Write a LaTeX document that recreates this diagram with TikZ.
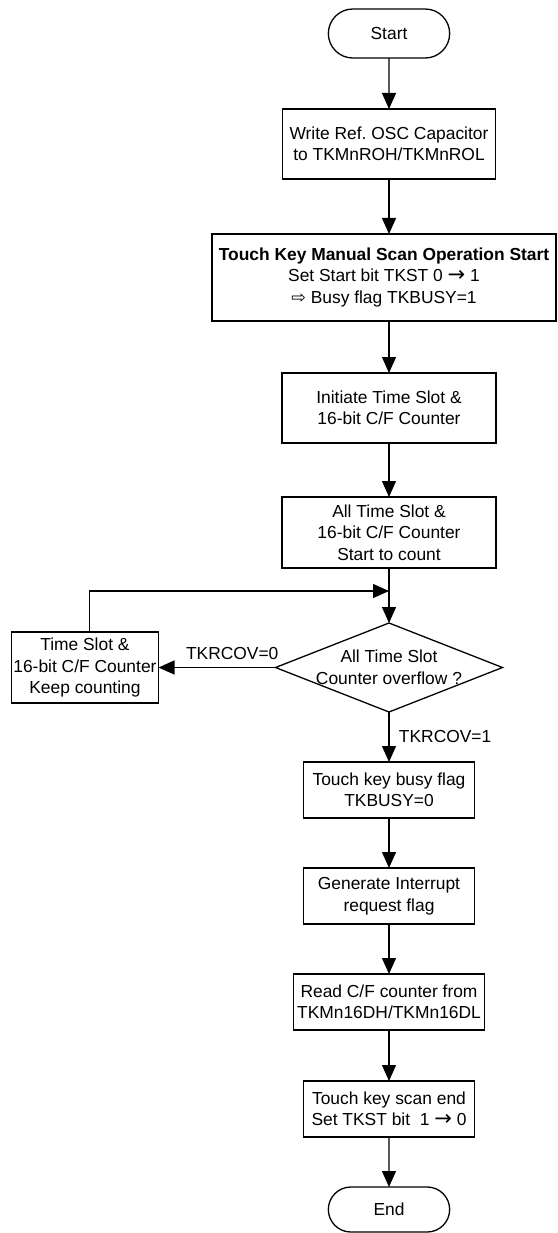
\documentclass[tikz,border=0pt]{standalone}
\usepackage{fontspec}
\setmainfont{Liberation Sans}
\newfontfamily\arrowfont{DejaVu Sans}
\usetikzlibrary{arrows.meta,positioning,shapes.geometric,shapes.misc}
\tikzset{
  term/.style={rounded rectangle, draw=black, line width=1.3pt, outer sep=0pt, minimum width=128pt, minimum height=49pt},
  proc/.style={draw=black, line width=1.3pt, outer sep=0pt, minimum width=171pt, minimum height=56pt, align=center, inner sep=2pt},
  decide/.style={diamond, draw=black, line width=1.3pt, outer sep=0pt, minimum width=227pt, minimum height=89pt, inner sep=0pt},
  flow/.style={-{Triangle[length=16pt,width=14pt]}, line width=1.3pt, draw=black}
}
\frenchspacing
\newcommand{\goesto}{{\arrowfont\fontsize{21}{21.5}\selectfont →}}

\begin{document}
\begin{tikzpicture}[x=1pt, y=1pt, font=\fontsize{17.4}{21.5}\selectfont]
  \useasboundingbox (0,0) rectangle (557,-1233);
  \node[term] (start) at (389,-33.5) {Start};
  \node[proc, below=51pt of start, minimum width=213pt, minimum height=70pt] (osc) {Write Ref. OSC Capacitor\\to TKMnROH/TKMnROL};
  \node[proc, below=55pt of osc, xshift=-5pt, minimum width=344pt, minimum height=87pt] (scan) {\textbf{Touch Key Manual Scan Operation Start}\\Set Start bit TKST 0 \goesto{} 1\\{\arrowfont ⇨} Busy flag TKBUSY=1};
  \node[proc, below=52pt of scan, xshift=5pt, minimum width=214pt, minimum height=70pt] (init) {Initiate Time Slot \&\\16-bit C/F Counter};
  \node[proc, below=54pt of init, minimum width=214pt, minimum height=71pt] (count) {All Time Slot \&\\16-bit C/F Counter\\Start to count};
  \coordinate[below=23pt of count] (merge);
  \node[decide, below=55pt of count] (ovf) {};
  \node[align=center] (ovftext) at (ovf) {All Time Slot\\Counter overflow ?};
  \node[proc, left=117pt of ovf, minimum width=147pt, minimum height=71pt] (keep) {Time Slot \&\\16-bit C/F Counter\\Keep counting};
  \node[proc, below=50pt of ovf] (busy) {Touch key busy flag\\TKBUSY=0};
  \node[proc, below=50pt of busy] (irq) {Generate Interrupt\\request flag};
  \node[proc, below=50pt of irq, minimum width=191pt] (read) {Read C/F counter from\\TKMn16DH/TKMn16DL};
  \node[proc, below=51pt of read] (stop) {Touch key scan end\\Set TKST bit~~1 \goesto{} 0};
  \node[term, below=50pt of stop, minimum height=45pt] (end) {End};

  \draw[flow] (start) -- (osc);
  \draw[flow] (osc) -- (osc |- scan.north);
  \draw[flow] (init |- scan.south) -- (init);
  \draw[flow] (init) -- (count);
  \draw[flow] (count) -- (ovf);
  \draw[flow] ([xshift=4.5pt]keep.north) |- (merge);
  \draw[flow] (ovf) -- node[above=4pt, pos=0.37] (no) {TKRCOV=0} (keep);
  \draw[flow] (ovf) -- node[right=6pt] (yes) {TKRCOV=1} (busy);
  \draw[flow] (busy) -- (irq);
  \draw[flow] (irq) -- (read);
  \draw[flow] (read) -- (stop);
  \draw[flow] (stop) -- (end);
\end{tikzpicture}
\end{document}
